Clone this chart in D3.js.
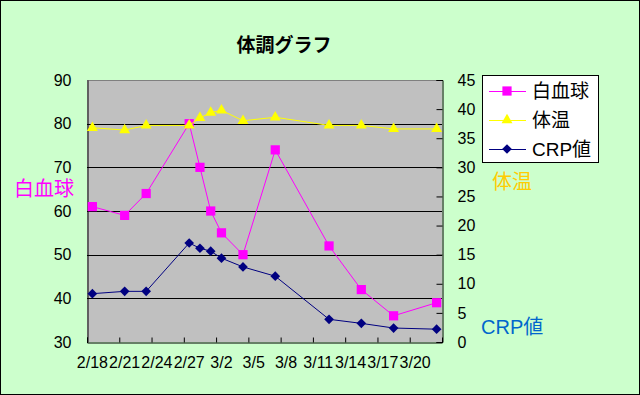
<!DOCTYPE html>
<html>
<head>
<meta charset="utf-8">
<script src="https://cdn.jsdelivr.net/npm/d3@7"></script>
<style>
  body { margin: 0; background: #fff; }
  svg { display: block; font-family: "Liberation Sans", "Noto Sans CJK JP", sans-serif; }
</style>
</head>
<body>
<svg id="chart" width="640" height="395"></svg>
<script>
// measurement days (m/d)
var dates = ["2/18","2/21","2/23","2/27","2/28","3/1","3/2","3/4","3/7","3/12","3/15","3/18","3/22"];
var wbc  = [61, 59, 64, 80, 70, 60, 55, 50, 74, 52, 42, 36, 39];
var temp = [36.8, 36.4, 37.2, 37.2, 38.5, 39.4, 39.8, 38.0, 38.6, 37.2, 37.2, 36.6, 36.6];
var crp  = [8.3, 8.7, 8.7, 17.0, 16.1, 15.6, 14.4, 12.9, 11.3, 3.9, 3.2, 2.4, 2.2];

var xLabels = ["2/18","2/21","2/24","2/27","3/2","3/5","3/8","3/11","3/14","3/17","3/20"];
var leftTicks = [30, 40, 50, 60, 70, 80, 90];
var rightTicks = [0, 5, 10, 15, 20, 25, 30, 35, 40, 45];
var seriesNames = ["白血球", "体温", "CRP値"];

var parseDay = function(s) {
  var p = s.split("/");
  return new Date(2003, +p[0] - 1, +p[1]);
};

var svg = d3.select("#chart");
var plot = { left: 87, right: 442, top: 80, bottom: 342 };

svg.append("rect")
   .attr("x", 0.5).attr("y", 0.5)
   .attr("width", 639).attr("height", 394)
   .attr("fill", "#CCFFCC").attr("stroke", "#000");

var start = parseDay(dates[0]);
var end = d3.timeDay.offset(parseDay(xLabels[xLabels.length - 1]), 3);
var x = d3.scaleTime().domain([start, end]).range([plot.left, plot.right]);
var mid = function(s) { return x(d3.timeHour.offset(parseDay(s), 12)); };
var yL = d3.scaleLinear().domain([30, 90]).range([plot.bottom, plot.top]);
var yR = d3.scaleLinear().domain([0, 45]).range([plot.bottom, plot.top]);

svg.append("rect")
   .attr("x", plot.left).attr("y", plot.top)
   .attr("width", plot.right - plot.left).attr("height", plot.bottom - plot.top)
   .attr("fill", "#C0C0C0");

// gridlines (left axis major)
svg.append("g").selectAll("line")
   .data(leftTicks.slice(1, -1))
   .enter().append("line")
   .attr("x1", plot.left).attr("x2", plot.right)
   .attr("y1", function(d) { return Math.round(yL(d)) + 0.5; })
   .attr("y2", function(d) { return Math.round(yL(d)) + 0.5; })
   .attr("stroke", "#000");

svg.append("line")
   .attr("x1", plot.left).attr("x2", plot.right)
   .attr("y1", plot.top + 0.5).attr("y2", plot.top + 0.5)
   .attr("stroke", "#808080");

// bottom axis: ticks every 3 days, labels centred on the day
var tickDates = xLabels.map(parseDay);
var gx = svg.append("g")
   .attr("transform", "translate(0," + (plot.bottom + 0.5) + ")")
   .call(d3.axisBottom(x).tickValues(tickDates).tickSize(-5).tickFormat(""));
gx.selectAll("path, line").attr("stroke", "#000");

svg.append("g").selectAll("text")
   .data(xLabels)
   .enter().append("text")
   .attr("x", function(d) { return mid(d); })
   .attr("y", 368)
   .attr("text-anchor", "middle")
   .attr("font-size", 16)
   .text(function(d) { return d; });

var gl = svg.append("g")
   .attr("transform", "translate(" + (plot.left + 0.5) + ",0)")
   .call(d3.axisLeft(yL).tickValues(leftTicks).tickSize(0).tickPadding(16));
gl.select(".domain").attr("stroke", "#000");
gl.selectAll("text").attr("font-size", 16).attr("fill", "#000");

var gr = svg.append("g")
   .attr("transform", "translate(" + (plot.right + 0.5) + ",0)")
   .call(d3.axisRight(yR).tickValues(rightTicks).tickSize(-6).tickPadding(15));
gr.selectAll("path, line").attr("stroke", "#000");
gr.selectAll("text").attr("font-size", 16).attr("fill", "#000");

// series
var symSquare = d3.symbol().type(d3.symbolSquare).size(85);
var symTri = d3.symbol().type(d3.symbolTriangle).size(52);
var symDiamond = d3.symbol().type(d3.symbolDiamond2).size(60);

function drawSeries(values, scale, color, sym) {
  var pts = values.map(function(v, i) { return [mid(dates[i]), scale(v)]; });
  var g = svg.append("g");
  g.append("path")
   .attr("d", d3.line()(pts))
   .attr("fill", "none").attr("stroke", color).attr("stroke-width", 1);
  g.selectAll("path.m").data(pts).enter().append("path")
   .attr("class", "m")
   .attr("transform", function(p) { return "translate(" + p[0] + "," + p[1] + ")"; })
   .attr("d", sym)
   .attr("fill", color);
}
drawSeries(wbc, yL, "#FF00FF", symSquare);
drawSeries(temp, yR, "#FFFF00", symTri);
drawSeries(crp, yR, "#000080", symDiamond);

// title
svg.append("text")
   .attr("x", 284).attr("y", 52)
   .attr("text-anchor", "middle")
   .attr("font-size", 19).attr("font-weight", "bold")
   .text("体調グラフ");

// axis titles
svg.append("text").attr("x", 14).attr("y", 196)
   .attr("font-size", 20).attr("fill", "#FF00FF").text(seriesNames[0]);
svg.append("text").attr("x", 492).attr("y", 189)
   .attr("font-size", 20).attr("fill", "#FFCC00").text(seriesNames[1]);
svg.append("text").attr("x", 481).attr("y", 334)
   .attr("font-size", 20).attr("fill", "#0066CC").text(seriesNames[2]);

// legend
var legend = svg.append("g");
legend.append("rect")
   .attr("x", 482.5).attr("y", 75.5).attr("width", 116).attr("height", 87)
   .attr("fill", "#fff").attr("stroke", "#000");
var legendColors = ["#FF00FF", "#FFFF00", "#000080"];
var legendSyms = [symSquare, symTri, symDiamond];
seriesNames.forEach(function(name, i) {
  var ly = 91 + i * 29;
  legend.append("line")
     .attr("x1", 489).attr("x2", 526).attr("y1", ly + 0.5).attr("y2", ly + 0.5)
     .attr("stroke", legendColors[i]);
  legend.append("path")
     .attr("transform", "translate(507," + ly + ")")
     .attr("d", legendSyms[i]).attr("fill", legendColors[i]);
  legend.append("text")
     .attr("x", 532).attr("y", ly + 7)
     .attr("font-size", 19).text(name);
});
</script>
</body>
</html>
